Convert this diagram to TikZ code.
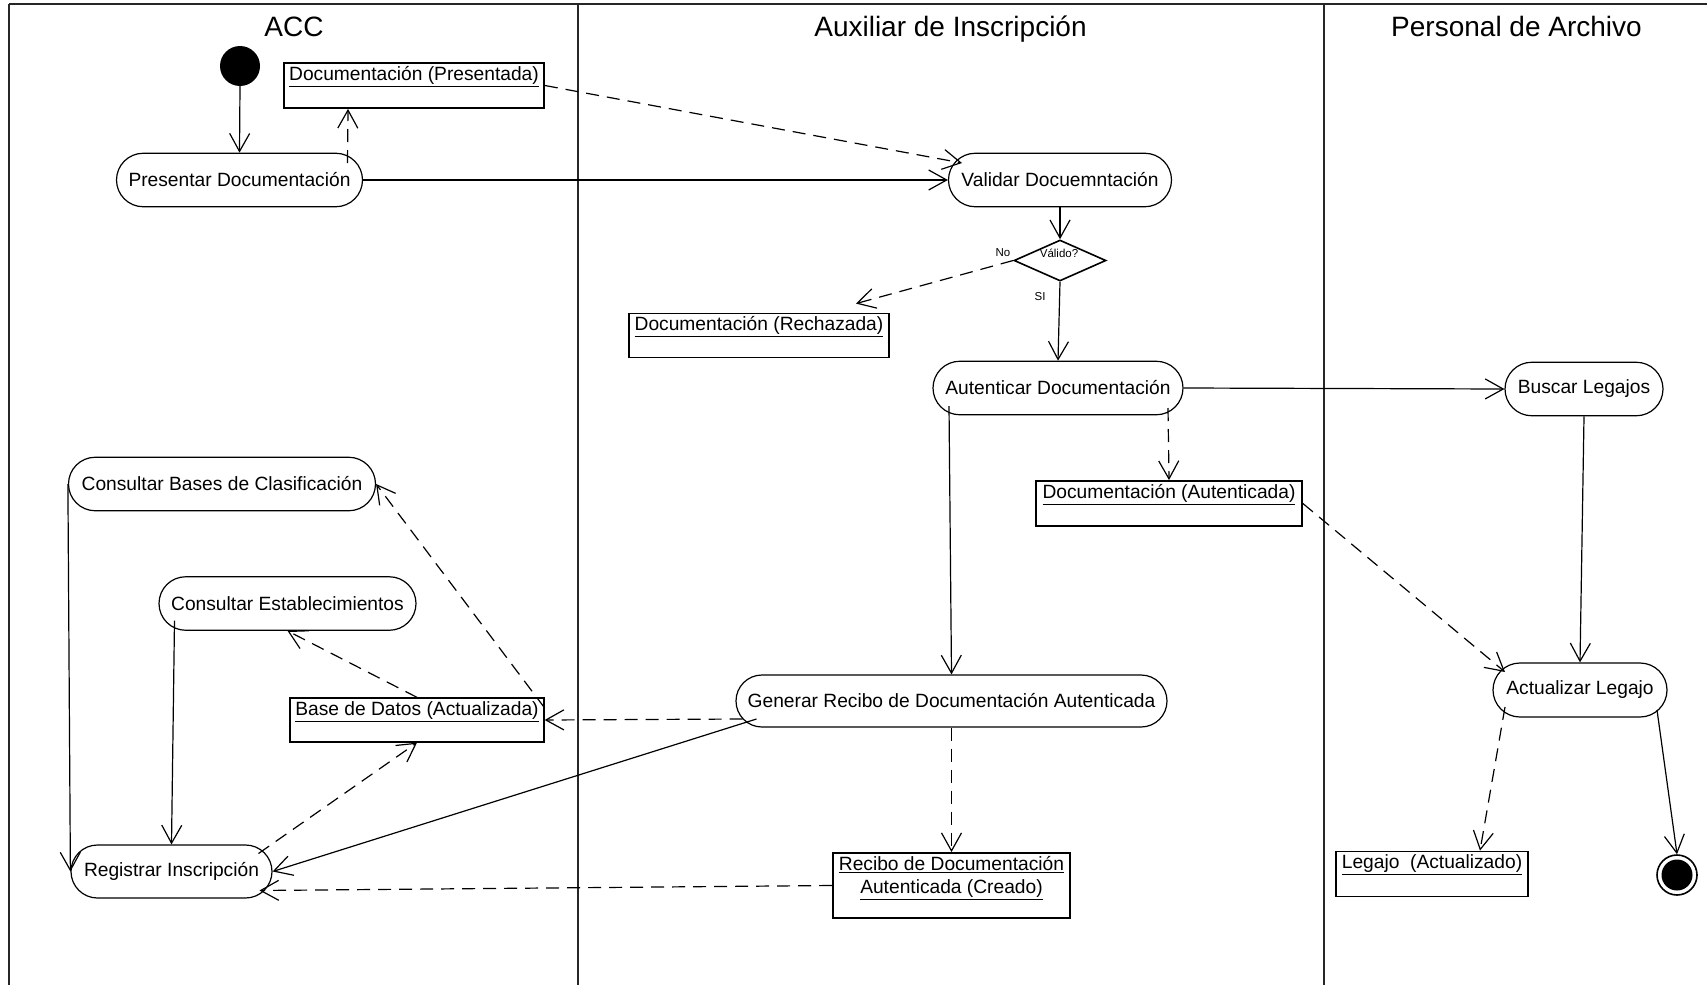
\documentclass[tikz,border=0pt]{standalone}
\usepackage{fontspec}
\setmainfont{Liberation Sans}
\usetikzlibrary{arrows.meta,shapes.misc,shapes.geometric,calc}

\begin{document}
\begin{tikzpicture}[x=1pt,y=-1pt,
  actnode/.style={rounded rectangle, draw, line width=1.2pt, inner sep=0pt,
    minimum height=53.5pt, font=\fontsize{19.2}{23}\selectfont},
  objbox/.style={rectangle, draw, line width=1.8pt, inner sep=0pt},
  objtext/.style={anchor=north, inner sep=0pt, align=center,
    font=\fontsize{19.2}{23.5}\selectfont},
  lanetitle/.style={anchor=base, inner sep=0pt, font=\fontsize{28}{32}\selectfont},
  smalltext/.style={inner sep=0pt, font=\fontsize{11.5}{13}\selectfont},
  flow/.style={line width=1.2pt, -{Straight Barb[length=18pt,width=20pt]}},
  dep/.style={flow, dash pattern=on 13pt off 8pt},
  poolline/.style={line width=2.4pt, black!85}
]
\useasboundingbox (0,0) rectangle (1707,985);

% swimlanes
\draw[poolline] (9,4) -- (1707,4);
\draw[poolline] (9,4) -- (9,985);
\draw[poolline] (578,4) -- (578,985);
\draw[poolline] (1324,4) -- (1324,985);

\node[lanetitle] (laneA) at (294,36) {ACC};
\node[lanetitle] (laneB) at (950.5,36) {Auxiliar de Inscripción};
\node[lanetitle] (laneC) at (1516.5,36) {Personal de Archivo};

% start and end
\node[circle, fill, minimum size=40pt, inner sep=0pt] (init) at (240,66) {};
\node[circle, draw, line width=1.6pt, minimum size=40pt, inner sep=0pt] (fin) at (1677,875) {};
\fill (fin.center) circle (15.5pt);

% activities
\node[actnode, minimum width=246pt] (pres) at (239.5,180) {Presentar Documentación};
\node[actnode, minimum width=223pt] (val) at (1060,180) {Validar Docuemntación};
\node[actnode, minimum width=250pt] (aut) at (1058,388) {Autenticar Documentación};
\node[actnode, minimum width=158pt] (busc) at (1584,389) {Buscar Legajos};
\node[actnode, minimum width=307pt] (cbc) at (222,484) {Consultar Bases de Clasificación};
\node[actnode, minimum width=257pt] (cest) at (287.5,603.5) {Consultar Establecimientos};
\node[actnode, minimum width=431pt, minimum height=52pt] (gen) at (951.5,701) {Generar Recibo de Documentación Autenticada};
\node[actnode, minimum width=174pt, minimum height=54pt] (act) at (1580,690) {Actualizar Legajo};
\node[actnode, minimum width=201pt, minimum height=53pt] (reg) at (171.5,871.5) {Registrar Inscripción};

% decision
\node[diamond, draw, line width=1.6pt, minimum width=92pt, minimum height=41pt, inner sep=0pt] (dia) at (1060,260.5) {};
\node[smalltext] (valido) at (1059,253) {Válido?};
\node[smalltext] (no) at (1003,253) {No};
\node[smalltext] (si) at (1040,297) {SI};

% object flows
\node[objbox, minimum width=260pt, minimum height=45pt] (docpres) at (414,85.5) {};
\node[objtext] (docpres-t) at ($(docpres.north)+(0,4)$) {\underline{Documentación (Presentada)}};
\node[objbox, minimum width=260pt, minimum height=44pt] (docrech) at (759,335.5) {};
\node[objtext] (docrech-t) at ($(docrech.north)+(0,4)$) {\underline{Documentación (Rechazada)}};
\node[objbox, minimum width=266pt, minimum height=45pt] (docaut) at (1169,503.5) {};
\node[objtext] (docaut-t) at ($(docaut.north)+(0,4)$) {\underline{Documentación (Autenticada)}};
\node[objbox, minimum width=253.5pt, minimum height=43.5pt] (bdd) at (417,720) {};
\node[objtext] (bdd-t) at ($(bdd.north)+(0,4)$) {\underline{Base de Datos (Actualizada)}};
\node[objbox, minimum width=237pt, minimum height=65pt] (recibo) at (951.5,885.5) {};
\node[objtext] (recibo-t) at ($(recibo.north)+(0,4)$) {\underline{Recibo de Documentación}\\\underline{Autenticada (Creado)}};
\node[objbox, minimum width=192pt, minimum height=45pt] (legact) at (1432,874) {};
\node[objtext] (legact-t) at ($(legact.north)+(0,4)$) {\underline{Legajo\ \ (Actualizado)}};

% control flows
\draw[flow] (init.south) -- (pres.north);
\draw[flow] (pres.east) -- (val.west);
\draw[flow] (val.south) -- (dia.north);
\draw[flow] (dia.south) -- (aut.north);
\draw[flow] (aut.east) -- (busc.west);
\draw[flow] ($(aut.center)+(-109,18)$) -- (gen.north);
\draw[flow] (busc.south) -- (act.north);
\draw[flow] ($(act.center)+(77,20)$) -- (fin.north);
\draw[flow] ($(gen.center)+(-195,18)$) -- (reg.east);
\draw[flow] (cbc.west) -- (reg.west);
\draw[flow] ($(cest.center)+(-113,17)$) -- (reg.north);

% object flows (dashed)
\draw[dep] ($(pres.center)+(108,-17)$) -- ($(docpres.south)+(-66,0)$);
\draw[dep] (docpres.east) -- ($(val.center)+(-98,-17)$);
\draw[dep] (dia.west) -- ($(docrech.north east)+(-34,-9)$);
\draw[dep] ($(aut.center)+(110,20)$) -- (docaut.north);
\draw[dep] (docaut.east) -- ($(act.center)+(-75,-18)$);
\draw[dep] ($(act.center)+(-75,17)$) -- ($(legact.north)+(48,0)$);
\draw[dep] ($(gen.center)+(-209,18)$) -- (bdd.east);
\draw[dep] (gen.south) -- (recibo.north);
\draw[dep] (recibo.west) -- ($(reg.center)+(88,19)$);
\draw[dep] (bdd.north) -- (cest.south);
\draw[dep] ($(bdd.east)+(0,-12)$) -- (cbc.east);
\draw[dep] ($(reg.center)+(87,-18)$) -- (bdd.south);
\end{tikzpicture}
\end{document}
